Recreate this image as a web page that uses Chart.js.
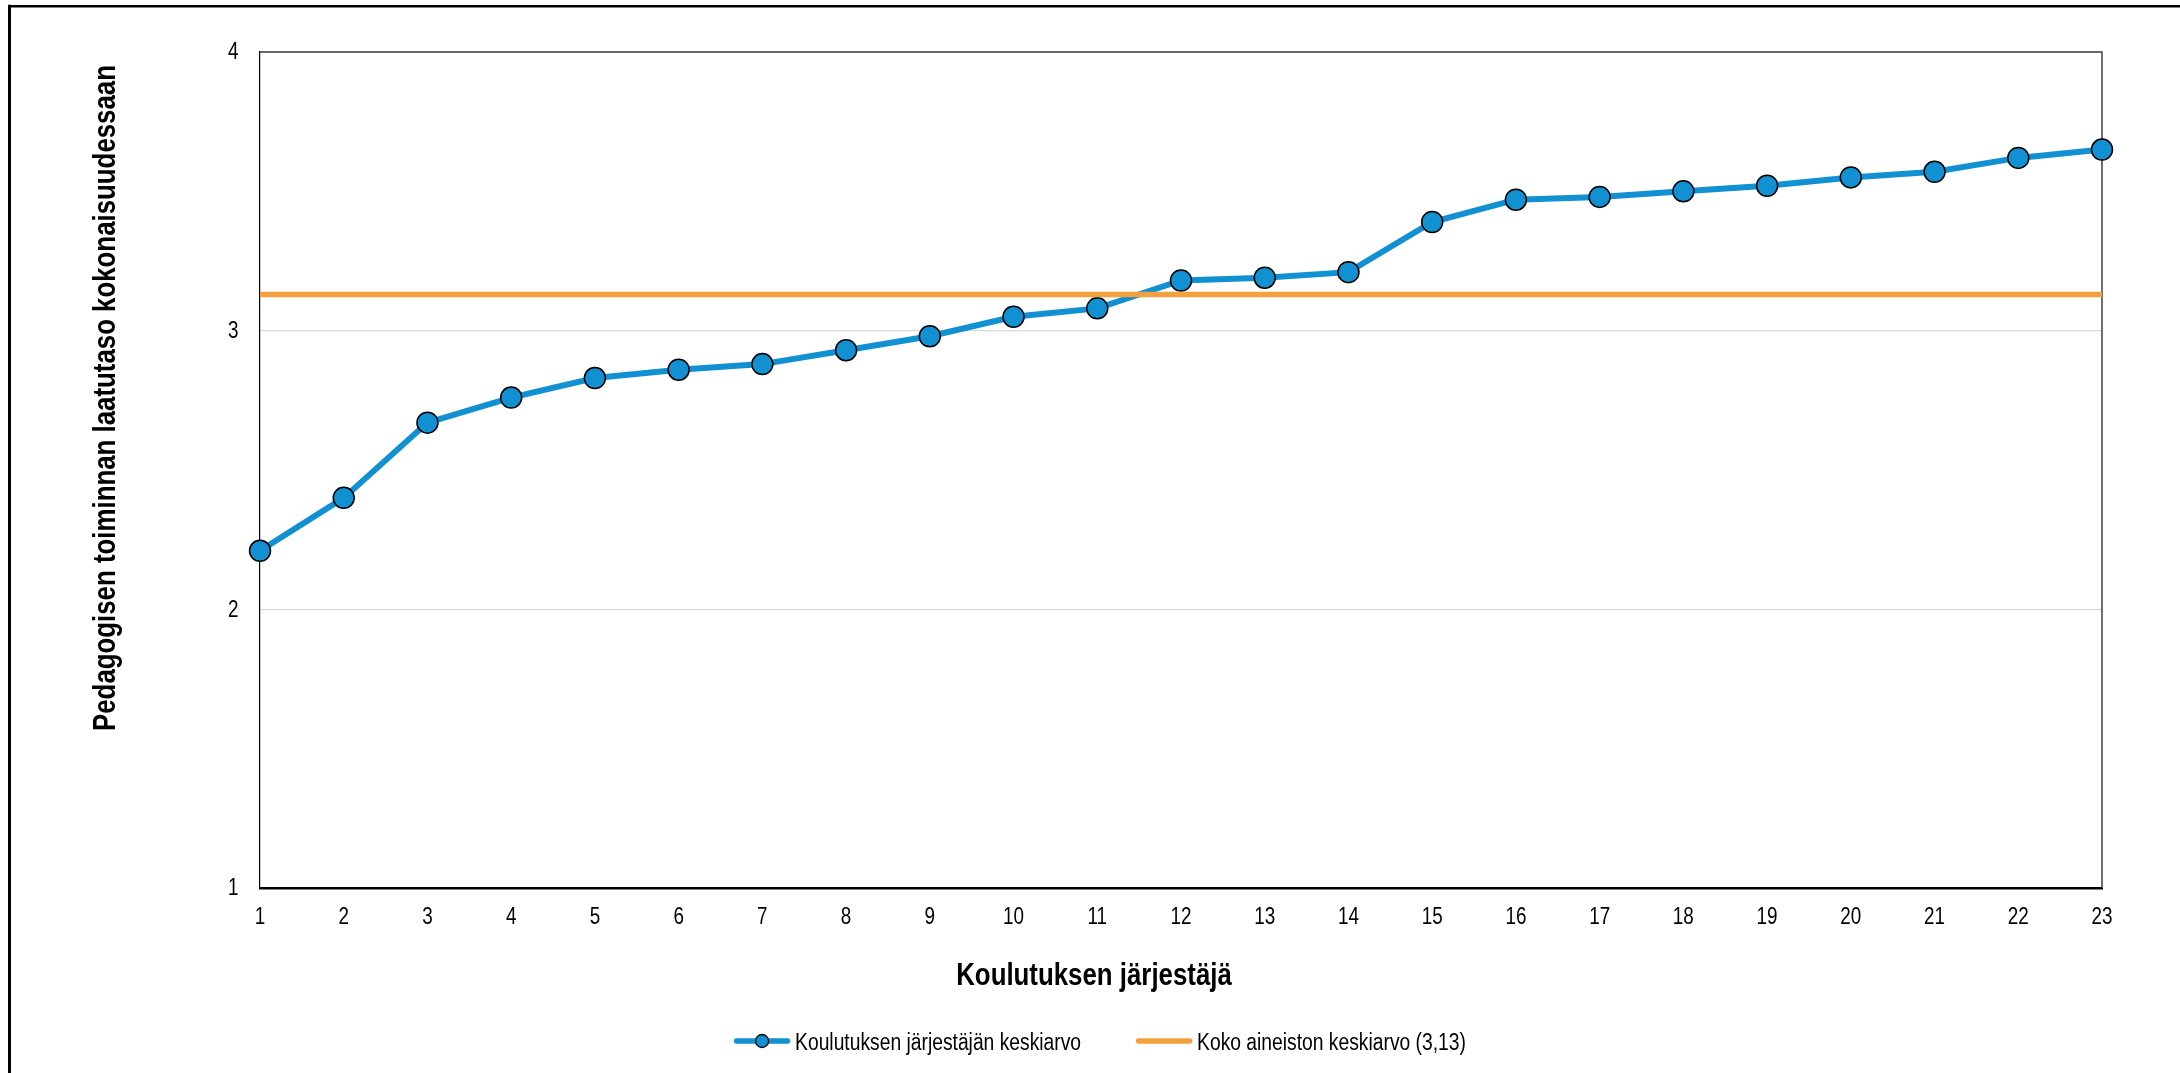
<!DOCTYPE html>
<html>
<head>
<meta charset="utf-8">
<script src="https://cdn.jsdelivr.net/npm/chart.js@4/dist/chart.umd.min.js"></script>
<style>
  html, body { margin: 0; padding: 0; background: #fff; }
  #wrap { width: 2180px; height: 1073px; position: relative; }
</style>
</head>
<body>
<div id="wrap"><canvas id="c"></canvas></div>
<script>
// ---- data ----
const categories = ['1','2','3','4','5','6','7','8','9','10','11','12','13','14','15','16','17','18','19','20','21','22','23'];
const providerMeans = [2.21, 2.40, 2.67, 2.76, 2.83, 2.86, 2.88, 2.93, 2.98, 3.05, 3.08, 3.18, 3.19, 3.21, 3.39, 3.47, 3.48, 3.50, 3.52, 3.55, 3.57, 3.62, 3.65];
const overallMean = 3.13;
const seriesLabels = ['Koulutuksen järjestäjän keskiarvo', 'Koko aineiston keskiarvo (3,13)'];
const xTitle = 'Koulutuksen järjestäjä';
const yTitle = 'Pedagogisen toiminnan laatutaso kokonaisuudessaan';

// ---- style ----
const FONT = "'Liberation Sans', Arial, sans-serif";
const NARROW = 0.82; // emulate a narrow sans face
const BLUE = '#1191D1';
const ORANGE = '#F2A13C';
Chart.defaults.font.family = FONT;
Chart.defaults.color = '#000';

const meanLine = [
  { x: categories[0], y: overallMean },
  { x: categories[categories.length - 1], y: overallMean }
];

function narrowText(ctx, text, x, y, font, align, baseline, rot) {
  ctx.save();
  ctx.font = font;
  ctx.textAlign = align;
  ctx.textBaseline = baseline;
  ctx.fillStyle = '#000';
  ctx.translate(x, y);
  if (rot) ctx.rotate(rot);
  ctx.scale(NARROW, 1);
  ctx.fillText(text, 0, 0);
  ctx.restore();
}

const decor = {
  id: 'decor',
  beforeDatasetsDraw(chart) {
    const { ctx, chartArea: a } = chart;
    ctx.save();
    ctx.strokeStyle = '#404040';
    ctx.lineWidth = 1.5;
    ctx.beginPath();
    ctx.moveTo(a.left, a.top);
    ctx.lineTo(a.right, a.top);
    ctx.lineTo(a.right, a.bottom);
    ctx.stroke();
    ctx.restore();
  },
  afterDraw(chart) {
    const { ctx } = chart;
    const xs = chart.scales.x, ys = chart.scales.y;
    ctx.save();
    // outer frame (left and top visible)
    ctx.strokeStyle = '#000';
    ctx.lineWidth = 3;
    ctx.beginPath(); ctx.moveTo(9.5, 4.8); ctx.lineTo(9.5, 1073); ctx.stroke();
    ctx.lineWidth = 2.4;
    ctx.beginPath(); ctx.moveTo(8, 6.2); ctx.lineTo(2180, 6.2); ctx.stroke();

    // tick labels (positions from the library's scales)
    const tickFont = "23px " + FONT;
    xs.ticks.forEach((t, i) => {
      narrowText(ctx, String(t.label), xs.getPixelForTick(i), 918, tickFont, 'center', 'middle');
    });
    ys.ticks.forEach((t, i) => {
      narrowText(ctx, String(t.label), 238.5, ys.getPixelForTick(i) + 1, tickFont, 'right', 'middle');
    });

    // axis titles
    const titleFont = "bold 31.5px " + FONT;
    narrowText(ctx, xTitle, 1094, 985, titleFont, 'center', 'alphabetic');
    narrowText(ctx, yTitle, 115, 398, titleFont, 'center', 'alphabetic', -Math.PI / 2);

    // legend
    const legFont = "23.5px " + FONT;
    ctx.font = legFont;
    const ds = chart.data.datasets;
    const lineW = 56, gapT = 5, gapItem = 55, cy = 1041, baseline = 1049.5;
    const widths = ds.map(d => lineW + gapT + ctx.measureText(d.label).width * NARROW);
    const total = widths.reduce((s, w) => s + w, 0) + gapItem * (ds.length - 1);
    let x = 1100 - total / 2;
    ds.forEach((d, i) => {
      ctx.strokeStyle = d.borderColor;
      ctx.lineWidth = 5.5;
      ctx.lineCap = 'round';
      ctx.beginPath(); ctx.moveTo(x + 2.5, cy); ctx.lineTo(x + lineW - 2.5, cy); ctx.stroke();
      if (d.pointRadius > 0) {
        ctx.beginPath();
        ctx.arc(x + lineW / 2, cy, 6.5, 0, Math.PI * 2);
        ctx.fillStyle = d.pointBackgroundColor;
        ctx.fill();
        ctx.lineWidth = 1.3;
        ctx.strokeStyle = '#000';
        ctx.stroke();
      }
      narrowText(ctx, d.label, x + lineW + gapT, baseline, legFont, 'left', 'alphabetic');
      x += widths[i] + gapItem;
    });
    ctx.restore();
  }
};

new Chart(document.getElementById('c'), {
  type: 'line',
  data: {
    labels: categories,
    datasets: [
      {
        label: seriesLabels[0],
        data: providerMeans,
        borderColor: BLUE,
        backgroundColor: BLUE,
        borderWidth: 6,
        pointRadius: 10.5,
        pointHoverRadius: 10.5,
        pointBackgroundColor: BLUE,
        pointBorderColor: '#000',
        pointBorderWidth: 1.5,
        tension: 0,
        order: 1
      },
      {
        label: seriesLabels[1],
        data: meanLine,
        borderColor: ORANGE,
        backgroundColor: ORANGE,
        borderWidth: 5.5,
        pointRadius: 0,
        pointHoverRadius: 0,
        tension: 0,
        order: 0
      }
    ]
  },
  options: {
    responsive: true,
    maintainAspectRatio: false,
    animation: false,
    events: [],
    layout: { padding: { top: 52, right: 78, left: 0, bottom: 0 } },
    plugins: {
      legend: { display: false },
      title: { display: false },
      tooltip: { enabled: false }
    },
    scales: {
      x: {
        type: 'category',
        offset: false,
        grid: { display: false, drawTicks: false },
        border: { display: true, color: '#000', width: 2.5 },
        ticks: { display: false, autoSkip: false },
        afterFit(s) { s.height = 185; }
      },
      y: {
        min: 1,
        max: 4,
        ticks: { display: false, stepSize: 1 },
        grid: { color: '#D9D9D9', lineWidth: 1.2, drawTicks: false },
        border: { display: true, color: '#000', width: 1.2 },
        afterFit(s) { s.width = 260; }
      }
    }
  },
  plugins: [decor]
});
</script>
</body>
</html>
